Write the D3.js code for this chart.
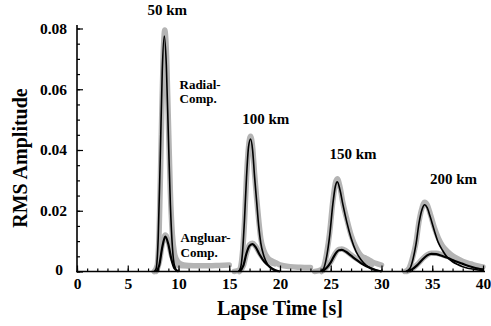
<!DOCTYPE html>
<html><head><meta charset="utf-8">
<script src="https://cdn.jsdelivr.net/npm/d3@7"></script>
<style>
body{margin:0;background:#fff;}
svg text{font-family:"Liberation Serif","Times New Roman",serif;font-weight:bold;fill:#000;}
</style></head>
<body><svg id="c" width="491" height="326"></svg>
<script>
// ---- data (time [s], RMS amplitude) ----
const xTicks = [0,5,10,15,20,25,30,35,40];
const yTicks = [0,0.02,0.04,0.06,0.08];
const yTickLabels = ["0","0.02","0.04","0.06","0.08"];
const distances = ["50 km","100 km","150 km","200 km"];

// observed (gray) radial envelopes
const obsRadial50 = [[7.6,0],[7.9,0.002],[8.1,0.014],[8.3,0.044],[8.5,0.072],[8.65,0.0795],[8.8,0.073],[9.0,0.05],[9.2,0.026],[9.4,0.012],[9.6,0.006],[9.8,0.004],[10.0,0.003],[10.5,0.0022],[11,0.002],[12,0.0019],[13,0.0019],[14,0.002],[15,0.0021]];
const obsRadial100 = [[15.5,0],[16.0,0.0005],[16.2,0.003],[16.5,0.016],[16.7,0.031],[16.9,0.041],[17.1,0.0445],[17.3,0.041],[17.5,0.032],[17.7,0.024],[17.9,0.017],[18.1,0.011],[18.4,0.007],[18.8,0.0045],[19.2,0.0035],[19.6,0.0029],[20,0.0022],[21,0.0016],[22,0.0014],[23,0.0013]];
const obsRadial150 = [[23.4,0],[24.0,0.0005],[24.3,0.0015],[24.6,0.006],[24.9,0.013],[25.2,0.023],[25.45,0.029],[25.65,0.0305],[25.9,0.028],[26.2,0.0225],[26.6,0.017],[27.0,0.012],[27.5,0.0078],[28.0,0.0052],[28.3,0.0046],[28.7,0.004],[29.2,0.003],[29.6,0.0025],[30.0,0.0021]];
const obsRadial200 = [[32.3,0],[32.7,0.001],[33.1,0.005],[33.4,0.0095],[33.7,0.0165],[34.0,0.021],[34.25,0.0228],[34.5,0.022],[34.8,0.019],[35.2,0.0145],[35.6,0.011],[36.0,0.0085],[36.5,0.0066],[37.0,0.0052],[37.5,0.0042],[38.0,0.0034],[38.5,0.0028],[39.0,0.0023],[39.5,0.0018],[40,0.0015]];
// observed (gray) angular envelopes
const obsAngular50 = [[7.8,0],[8.1,0.003],[8.4,0.009],[8.7,0.012],[9.0,0.0098],[9.3,0.0055],[9.6,0.003],[10,0.002],[11,0.0018]];
const obsAngular100 = [[16.0,0],[16.4,0.002],[16.7,0.006],[17.0,0.0088],[17.3,0.0093],[17.6,0.0083],[18.0,0.006],[18.5,0.0038],[19.0,0.003],[19.5,0.0025]];
const obsAngular150 = [[24.1,0],[24.6,0.0013],[25.0,0.0032],[25.4,0.0057],[25.8,0.0073],[26.1,0.0074],[26.5,0.0068],[27.0,0.0055],[27.5,0.0043],[28.0,0.0033],[28.5,0.0026],[29.0,0.002]];
const obsAngular200 = [[32.5,0],[33.0,0.0008],[33.5,0.0022],[34.0,0.004],[34.5,0.0055],[34.9,0.006],[35.4,0.006],[36.0,0.0055],[36.5,0.005],[37.0,0.0043],[37.5,0.0036],[38.0,0.003],[38.5,0.0025]];

// model (black) radial
const modRadial50 = [[7.6,0],[7.8,0.001],[8.0,0.011],[8.2,0.037],[8.4,0.066],[8.6,0.0775],[8.8,0.068],[9.0,0.045],[9.2,0.022],[9.4,0.008],[9.6,0.002],[9.9,0]];
const modRadial100 = [[15.9,0],[16.1,0.001],[16.3,0.006],[16.5,0.017],[16.7,0.031],[16.9,0.041],[17.1,0.0436],[17.3,0.040],[17.5,0.031],[17.7,0.023],[17.9,0.015],[18.1,0.0095],[18.4,0.0052],[18.8,0.0022],[19.3,0.0006],[19.8,0]];
const modRadial150 = [[24.0,0],[24.3,0.001],[24.6,0.005],[24.9,0.012],[25.2,0.022],[25.45,0.028],[25.65,0.0295],[25.9,0.027],[26.2,0.022],[26.6,0.016],[27.0,0.011],[27.5,0.0065],[28.0,0.0038],[28.5,0.002],[29.0,0.001],[29.5,0.0004],[30.0,0]];
const modRadial200 = [[32.4,0],[32.8,0.001],[33.1,0.004],[33.4,0.009],[33.7,0.016],[34.0,0.0205],[34.25,0.022],[34.5,0.021],[34.8,0.018],[35.2,0.0135],[35.6,0.0095],[36.0,0.007],[36.5,0.0046],[37.0,0.0032],[37.5,0.0023],[38.0,0.0016],[38.5,0.0011],[39.0,0.0008],[39.5,0.0005],[40,0.0003]];
// model (black) angular
const modAngular50 = [[7.8,0],[8.1,0.002],[8.4,0.008],[8.7,0.0115],[9.0,0.009],[9.3,0.004],[9.6,0.001],[10.0,0]];
const modAngular100 = [[16.0,0],[16.4,0.002],[16.7,0.006],[17.0,0.0085],[17.3,0.009],[17.6,0.008],[18.0,0.0055],[18.5,0.003],[19.0,0.0015],[19.5,0.0005],[20,0]];
const modAngular150 = [[24.1,0],[24.6,0.0012],[25.0,0.003],[25.4,0.0055],[25.8,0.007],[26.1,0.0071],[26.5,0.0065],[27.0,0.0052],[27.5,0.0039],[28.0,0.0027],[28.5,0.0017],[29.0,0.001],[29.5,0.0004],[30,0]];
const modAngular200 = [[32.5,0],[33.0,0.0007],[33.5,0.002],[34.0,0.0038],[34.5,0.0053],[34.9,0.0058],[35.4,0.0057],[36.0,0.0051],[36.5,0.0045],[37.0,0.0038],[37.5,0.0031],[38.0,0.0025],[38.5,0.0019],[39.0,0.0014],[39.5,0.001],[40,0.0007]];

// label anchors (data units): [time, amplitude]
const distLabelPos = [[8.9,0.0845],[18.6,0.0485],[27.2,0.037],[37.1,0.0289]];

// ---- drawing ----
const svg = d3.select("#c");
const x = d3.scaleLinear().domain([0,40]).range([77,483]);
const y = d3.scaleLinear().domain([0,0.08]).range([271.5,28.5]);
const line = d3.line().x(d=>x(d[0])).y(d=>y(d[1])).curve(d3.curveMonotoneX);

const gGray = svg.append("g");
[obsRadial50,obsRadial100,obsRadial150,obsRadial200,obsAngular50,obsAngular100,obsAngular150,obsAngular200].forEach(s=>{
  gGray.append("path").attr("d",line(s)).attr("fill","none").attr("stroke","#b4b4b4")
    .attr("stroke-width",5.5).attr("stroke-linejoin","round").attr("stroke-linecap","round");
});
const gBlack = svg.append("g");
[modRadial50,modRadial100,modRadial150,modRadial200].forEach(s=>{
  gBlack.append("path").attr("d",line(s)).attr("fill","none").attr("stroke","#000").attr("stroke-width",1.6);
});
[modAngular50,modAngular100,modAngular150,modAngular200].forEach(s=>{
  gBlack.append("path").attr("d",line(s)).attr("fill","none").attr("stroke","#000").attr("stroke-width",2.2);
});

// axes
const yMinor = d3.range(0,0.0801,0.005);
const xMinor = d3.range(0,40.01,1);
const yAxMinor = svg.append("g").attr("transform","translate(77,0)")
  .call(d3.axisLeft(y).tickValues(yMinor).tickSize(-3).tickFormat(""));
const yAx = svg.append("g").attr("transform","translate(77,0)")
  .call(d3.axisLeft(y).tickValues(yTicks).tickSize(-6).tickPadding(10).tickFormat((d,i)=>yTickLabels[i]));
const xAxMinor = svg.append("g").attr("transform","translate(0,271.5)")
  .call(d3.axisBottom(x).tickValues(xMinor).tickSize(-3).tickFormat(""));
const xAx = svg.append("g").attr("transform","translate(0,271.5)")
  .call(d3.axisBottom(x).tickValues(xTicks).tickSize(-6).tickPadding(6).tickFormat(d3.format("d")));
[yAxMinor,yAx,xAxMinor,xAx].forEach(g=>{
  g.select(".domain").remove();
  g.selectAll("line").attr("stroke","#000").attr("stroke-width",1.2);
  g.selectAll("text").style("font-size","15.5px").style("font-family","Liberation Serif").style("font-weight","bold");
});
yAx.selectAll(".tick text").filter(d=>d===0).attr("dx",-4).attr("dy","0.2em");
svg.append("line").attr("x1",77).attr("x2",77).attr("y1",y(0)+0.7).attr("y2",25).attr("stroke","#000").attr("stroke-width",1.6);
svg.append("line").attr("x1",76.2).attr("x2",485).attr("y1",y(0)).attr("y2",y(0)).attr("stroke","#000").attr("stroke-width",1.6);

// axis titles
svg.append("text").attr("x",280).attr("y",315).attr("text-anchor","middle").style("font-size","20px").text("Lapse Time [s]");
svg.append("text").attr("transform","translate(27,158) rotate(-90)").attr("text-anchor","middle").style("font-size","20px").text("RMS Amplitude");

// distance labels
distances.forEach((t,i)=>{
  svg.append("text").attr("x",x(distLabelPos[i][0])).attr("y",y(distLabelPos[i][1]))
    .attr("text-anchor","middle").style("font-size","15px").text(t);
});
// component labels
const compText = [["Radial-","Comp."],["Angluar-","Comp."]];
const compPos = [[10.1,0.0601],[10.2,0.0097]];
compText.forEach((lines,i)=>{
  lines.forEach((l,j)=>{
    svg.append("text").attr("x",x(compPos[i][0])).attr("y",y(compPos[i][1])+j*14.5)
      .style("font-size","13px").text(l);
  });
});
</script></body></html>
